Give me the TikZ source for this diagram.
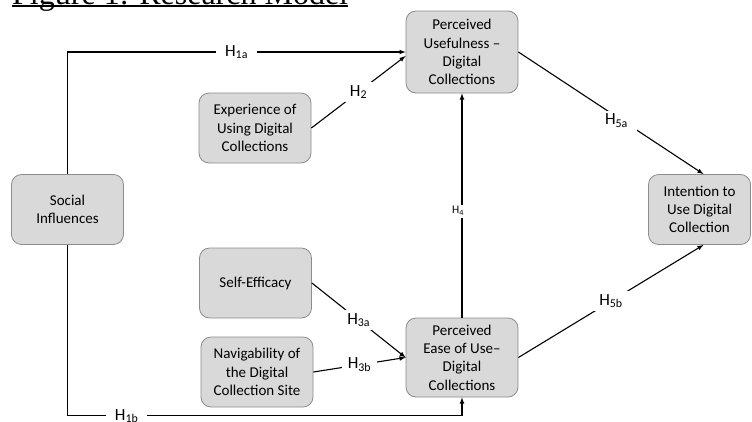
\documentclass[tikz,border=0pt]{standalone}
\usepackage{fontspec}
\setmainfont{Carlito}
\newfontfamily\titlefont{Liberation Serif}
\usepackage{tikz}
\usetikzlibrary{arrows}
\usetikzlibrary{positioning}
\definecolor{boxfill}{HTML}{D9D9D9}
\definecolor{boxline}{HTML}{8C8C8C}

\begin{document}
\begin{tikzpicture}[x=1pt,y=-1pt,
	every node/.style={font=\fontsize{15}{18.3}\selectfont},
	construct/.style={draw=boxline,fill=boxfill,line width=.8pt,rounded corners=10pt,
		align=center,minimum width=112pt,minimum height=70pt,inner sep=2pt},
	hyp/.style={fill=white,font=\fontsize{17}{20}\selectfont,inner xsep=9pt,inner ysep=3pt},
	link/.style={-latex,line width=1.1pt}]

	\useasboundingbox (0,0) rectangle (752,421);

	%title, cut at the top edge
	\node[anchor=base west,inner sep=0pt,font=\titlefont\fontsize{32}{38}\selectfont] at (12,4) (title) {Figure 1: Research Model};
	\draw[line width=1.4pt] ([yshift=-1.8pt]title.base west) -- ([yshift=-1.8pt]title.base east);

	%constructs
	\node[construct] at (67.5,209.5) (social) {Social\\Influences};
	\node[construct,minimum height=82pt] at (462,52) (useful) {Perceived\\Usefulness --\\Digital\\Collections};
	\node[construct] at (255,128) (exper) {Experience of\\Using Digital\\Collections};
	\node[construct] at (255.5,283) (selfeff) {Self-Efficacy};
	\node[construct] at (257,372) (navig) {Navigability of\\the Digital\\Collection Site};
	\node[construct,minimum height=79pt] at (462,357.5) (ease) {Perceived\\Ease of Use--\\Digital\\Collections};
	\node[construct,minimum width=102pt] at (699.5,209.5) (intent) {Intention to\\Use Digital\\Collection};

	%putting arrows and labels:
	\draw[link] (social.north) |- node[hyp,pos=.75] {H\textsubscript{1a}} (useful.west);
	\draw[link] (social.south) -- ++(0,171) -| node[hyp,pos=.075,inner ysep=1pt] {H\textsubscript{1b}} (ease.south);
	\draw[link] (exper.east) -- node[hyp,inner xsep=6pt] {H\textsubscript{2}} ([yshift=-4pt]useful.west);
	\draw[link] (selfeff.east) -- node[hyp,inner xsep=6pt] {H\textsubscript{3a}} (ease.west);
	\draw[link] (navig.east) -- node[hyp,inner xsep=6pt] {H\textsubscript{3b}} (ease.west);
	\draw[link] (ease.north) -- node[hyp,pos=.475,xshift=-4pt,inner sep=2pt,font=\fontsize{11.5}{13}\selectfont] {H\textsubscript{4}} (useful.south);
	\draw[link] (useful.east) -- node[hyp,pos=.53,yshift=-4pt] {H\textsubscript{5a}} ([xshift=4pt]intent.north);
	\draw[link] (ease.east) -- node[hyp] {H\textsubscript{5b}} ([xshift=4pt]intent.south);

\end{tikzpicture}
\end{document}
